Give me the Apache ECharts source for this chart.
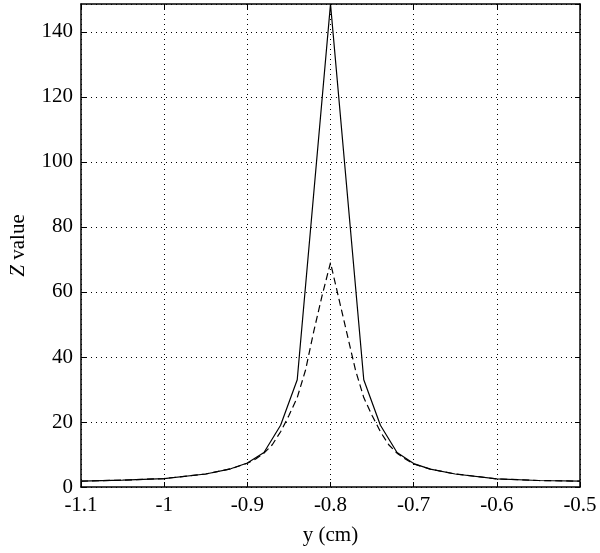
<!DOCTYPE html>
<html>
<head>
<meta charset="utf-8">
<script src="https://cdn.jsdelivr.net/npm/echarts@6/dist/echarts.min.js"></script>
<style>html,body{margin:0;padding:0;background:#fff}#c{width:600px;height:553px}</style>
</head>
<body>
<div id="c"></div>
<script>
// Solid curve samples
const solidX = [-1.1, -1.05, -1.0, -0.95, -0.92, -0.9, -0.88, -0.86, -0.84, -0.8, -0.76, -0.74, -0.72, -0.7, -0.68, -0.65, -0.6, -0.55, -0.5];
const solidY = [1.8, 2.1, 2.6, 4.0, 5.6, 7.4, 10.6, 19, 33, 148.6, 33, 19, 10.6, 7.2, 5.5, 4.0, 2.5, 2.0, 1.8];
// Dashed curve samples
const dashedX = [-1.1, -1.05, -1.0, -0.95, -0.92, -0.9, -0.89, -0.88, -0.87, -0.86, -0.85, -0.84, -0.83, -0.82, -0.81, -0.8, -0.79, -0.78, -0.77, -0.76, -0.75, -0.74, -0.73, -0.72, -0.71, -0.7, -0.68, -0.65, -0.6, -0.55, -0.5];
const dashedY = [1.8, 2.1, 2.6, 4.0, 5.6, 7.3, 8.6, 10.4, 13.0, 17.0, 22, 27.5, 36, 48, 59, 69, 58, 47, 36, 27.5, 22, 17.0, 13.0, 10.4, 8.6, 7.1, 5.5, 4.0, 2.5, 2.0, 1.8];
const xTicks = [-1.1, -1.0, -0.9, -0.8, -0.7, -0.6, -0.5];
const yTicks = [0, 20, 40, 60, 80, 100, 120, 140];

const font = '"Liberation Serif", "DejaVu Serif", serif';
const zip = (xs, ys) => xs.map((x, i) => [x, ys[i]]);
const fmtX = v => {
  const r = Math.round(v * 10) / 10;
  return xTicks.some(t => Math.abs(t - r) < 1e-9) ? String(r) : '';
};
const gridLine = { show: true, lineStyle: { color: '#000', type: [1, 4], width: 1 } };
const chart = echarts.init(document.getElementById('c'), null, { renderer: 'canvas' });
chart.setOption({
  animation: false,
  backgroundColor: '#fff',
  grid: { left: 79, right: 20, top: 4, bottom: 66, containLabel: false },
  xAxis: [{
    type: 'value', min: -1.1, max: -0.5, interval: 0.1,
    axisLine: { show: true, onZero: false, lineStyle: { color: '#000', width: 1.5 } },
    axisTick: { show: true, inside: true, length: 5, lineStyle: { color: '#000' } },
    axisLabel: { color: '#000', fontFamily: font, fontSize: 21, margin: 8, formatter: fmtX },
    splitLine: gridLine,
    name: 'y (cm)', nameLocation: 'middle', nameGap: 38,
    nameTextStyle: { color: '#000', fontFamily: font, fontSize: 21 }
  }, {
    type: 'value', position: 'top', min: -1.1, max: -0.5, interval: 0.1,
    axisLine: { show: true, onZero: false, lineStyle: { color: '#000', width: 1.5 } },
    axisTick: { show: true, inside: true, length: 5, lineStyle: { color: '#000' } },
    axisLabel: { show: false }, splitLine: { show: false }
  }],
  yAxis: [{
    type: 'value', min: 0, max: 148.6, interval: 20,
    axisLine: { show: true, lineStyle: { color: '#000', width: 1.5 } },
    axisTick: { show: true, inside: true, length: 5, lineStyle: { color: '#000' } },
    axisLabel: { color: '#000', fontFamily: font, fontSize: 21, margin: 8, showMaxLabel: false,
      formatter: v => yTicks.indexOf(v) >= 0 ? String(v) : '' },
    splitLine: gridLine,
    name: '{i|Z}{n| value}', nameLocation: 'middle', nameGap: 52, nameRotate: 90,
    nameTextStyle: { color: '#000', fontFamily: font, fontSize: 21,
      rich: {
        i: { fontStyle: 'italic', fontFamily: font, fontSize: 21, color: '#000' },
        n: { fontFamily: font, fontSize: 21, color: '#000' }
      } }
  }, {
    type: 'value', position: 'right', min: 0, max: 148.6, interval: 20,
    axisLine: { show: true, lineStyle: { color: '#000', width: 1.5 } },
    axisTick: { show: true, inside: true, length: 5, lineStyle: { color: '#000' } },
    axisLabel: { show: false }, splitLine: { show: false }
  }],
  series: [{
    type: 'line', data: zip(solidX, solidY), showSymbol: false, symbol: 'none',
    lineStyle: { color: '#000', width: 1.2 }, z: 3
  }, {
    type: 'line', data: zip(dashedX, dashedY), showSymbol: false, symbol: 'none',
    lineStyle: { color: '#000', width: 1.2, type: [7, 4] }, z: 3
  }]
});
</script>
</body>
</html>
